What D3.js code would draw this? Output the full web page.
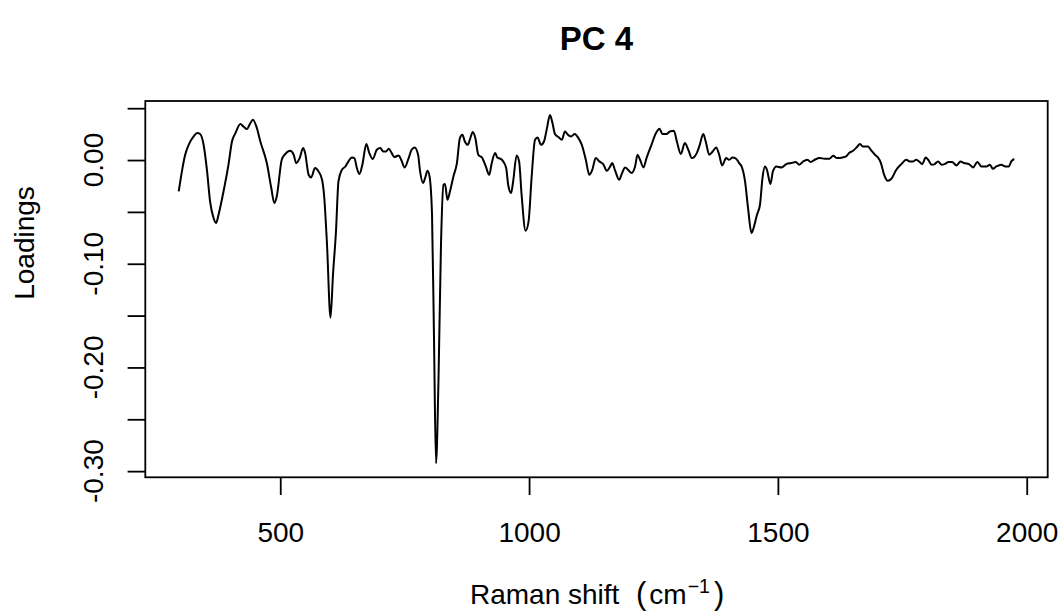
<!DOCTYPE html>
<html>
<head>
<meta charset="utf-8">
<script src="https://cdn.jsdelivr.net/npm/d3@7"></script>
<style>
  body { margin: 0; background: #fff; }
  svg { display: block; }
  text { font-family: "Liberation Sans", Arial, sans-serif; fill: #000; }
</style>
</head>
<body>
<div id="chart"></div>
<script>
// Raman shift (cm^-1) and PC4 loadings
const shift = [
  296, 309, 316, 326, 333, 339, 346, 353, 359, 366, 371, 376, 386, 396, 403, 410,
  420, 426, 433, 440, 445, 452, 460, 473, 482, 488, 493, 503, 510, 520, 527, 532,
  539, 546, 550, 557, 562, 570, 577, 584, 588, 594, 601, 606, 612, 617, 624, 631,
  637, 644, 649, 654, 659, 665, 673, 679, 686, 694, 701, 707, 713, 718, 724, 729,
  738, 743, 750, 758, 764, 770, 777, 781, 787, 791, 796, 800, 805, 809, 813, 818,
  823, 828, 831, 836, 841, 848, 855, 861, 866, 871, 877, 881, 887, 892, 898, 906,
  913, 920, 925, 932, 936, 942, 948, 954, 958, 964, 968, 975, 980, 985, 993, 999,
  1005, 1012, 1017, 1024, 1030, 1036, 1042, 1047, 1052, 1059, 1066, 1072, 1078, 1084, 1092, 1099,
  1106, 1114, 1121, 1127, 1134, 1141, 1149, 1156, 1163, 1167, 1173, 1181, 1187, 1193, 1206, 1213,
  1218, 1223, 1230, 1236, 1246, 1255, 1262, 1268, 1276, 1283, 1291, 1297, 1305, 1313, 1320, 1327,
  1337, 1343, 1350, 1355, 1362, 1369, 1376, 1382, 1388, 1396, 1402, 1409, 1416, 1422, 1427, 1434,
  1440, 1447, 1450, 1458, 1464, 1469, 1474, 1478, 1485, 1490, 1497, 1507, 1517, 1527, 1536, 1543,
  1551, 1559, 1566, 1574, 1584, 1594, 1604, 1611, 1619, 1630, 1637, 1643, 1651, 1658, 1665, 1671,
  1681, 1688, 1695, 1701, 1707, 1713, 1721, 1728, 1738, 1748, 1758, 1765, 1772, 1778, 1785, 1790,
  1797, 1802, 1809, 1815, 1822, 1829, 1835, 1843, 1850, 1859, 1867, 1874, 1884, 1892, 1901, 1909,
  1919, 1926, 1932, 1939, 1949, 1957, 1964, 1969, 1975
]

const loading = [
  -0.0303, 0.0051, 0.0147, 0.0228, 0.0260, 0.0251, 0.0147, -0.0110, -0.0399, -0.0559, -0.0607, -0.0527, -0.0303, -0.0045, 0.0179, 0.0260,
  0.0347, 0.0324, 0.0299, 0.0357, 0.0388, 0.0324, 0.0179, -0.0029, -0.0270, -0.0415, -0.0351, 0.0003, 0.0058, 0.0090, 0.0051, -0.0029,
  0.0019, 0.0116, 0.0067, -0.0142, -0.0168, -0.0077, -0.0110, -0.0190, -0.0335, -0.0817, -0.1520, -0.1106, -0.0688, -0.0206, -0.0094, -0.0062,
  -0.0013, 0.0025, 0.0019, -0.0077, -0.0135, -0.0045, 0.0154, 0.0067, 0.0010, 0.0099, 0.0116, 0.0083, 0.0083, 0.0109, 0.0067, 0.0029,
  0.0044, 0.0003, -0.0071, 0.0019, 0.0099, 0.0121, 0.0051, -0.0110, -0.0222, -0.0174, -0.0103, -0.0158, -0.0527, -0.1732, -0.2925, -0.2118,
  -0.0817, -0.0238, -0.0231, -0.0383, -0.0303, -0.0158, -0.0029, 0.0212, 0.0244, 0.0179, 0.0147, 0.0196, 0.0270, 0.0212, 0.0051, 0.0019,
  -0.0062, -0.0142, -0.0029, 0.0067, 0.0025, 0.0013, -0.0013, -0.0077, -0.0238, -0.0318, -0.0206, 0.0044, -0.0013, -0.0335, -0.0682, -0.0592,
  -0.0174, 0.0196, 0.0218, 0.0147, 0.0179, 0.0308, 0.0435, 0.0357, 0.0251, 0.0222, 0.0196, 0.0276, 0.0244, 0.0228, 0.0251, 0.0212,
  0.0147, 0.0003, -0.0142, -0.0094, 0.0019, -0.0013, -0.0039, -0.0103, -0.0062, -0.0029, -0.0103, -0.0190, -0.0125, -0.0071, -0.0125, -0.0062,
  0.0051, 0.0003, -0.0071, 0.0019, 0.0147, 0.0260, 0.0302, 0.0251, 0.0251, 0.0276, 0.0282, 0.0179, 0.0058, 0.0164, 0.0099, 0.0019,
  0.0067, 0.0147, 0.0251, 0.0179, 0.0051, 0.0083, 0.0121, 0.0051, -0.0052, 0.0019, 0.0003, 0.0025, 0.0013, -0.0029, -0.0062, -0.0206,
  -0.0463, -0.0704, -0.0672, -0.0527, -0.0431, -0.0174, -0.0062, -0.0094, -0.0231, -0.0110, -0.0062, -0.0071, -0.0039, -0.0029, -0.0019, -0.0045,
  -0.0013, 0.0003, -0.0019, 0.0003, 0.0019, 0.0013, 0.0013, 0.0041, 0.0019, 0.0025, 0.0035, 0.0067, 0.0090, 0.0121, 0.0154, 0.0131,
  0.0131, 0.0090, 0.0051, 0.0025, -0.0029, -0.0135, -0.0200, -0.0180, -0.0094, -0.0039, 0.0003, -0.0013, -0.0013, 0.0003, -0.0019, -0.0039,
  0.0025, 0.0003, -0.0045, -0.0039, -0.0013, -0.0045, -0.0039, -0.0019, -0.0019, -0.0052, -0.0013, -0.0029, -0.0039, -0.0071, -0.0019, -0.0062,
  -0.0062, -0.0045, -0.0084, -0.0062, -0.0045, -0.0062, -0.0062, -0.0013, 0.0010
]

const xTicks = [500, 1000, 1500, 2000]
const yTicks = [0.05, 0, -0.05, -0.1, -0.15, -0.2, -0.25, -0.3]
const yLabelled = [0, -0.1, -0.2, -0.3]

const chartTitle = 'PC 4'
const yTitle = 'Loadings'

const width = 1063
const height = 612
const box = { left: 145.3, right: 1047.7, top: 101, bottom: 477.3 }
const tickLen = 17.7
const fontSize = 28

// R-style 4% padding around the data range
function padded(ext) {
  const p = (ext[1] - ext[0]) * 0.04
  return [ext[0] - p, ext[1] + p]
}

const x = d3.scaleLinear().domain(padded(d3.extent(shift))).range([box.left, box.right])
const y = d3.scaleLinear().domain(padded(d3.extent(loading))).range([box.bottom, box.top])

const svg = d3
  .select('#chart')
  .append('svg')
  .attr('width', width)
  .attr('height', height)

svg.append('rect').attr('width', width).attr('height', height).attr('fill', '#fff')

const points = shift.map((s, i) => [s, loading[i]])

svg
  .append('path')
  .datum(points)
  .attr('fill', 'none')
  .attr('stroke', '#000')
  .attr('stroke-width', 2)
  .attr('stroke-linejoin', 'round')
  .attr(
    'd',
    d3
      .line()
      .x((d) => x(d[0]))
      .y((d) => y(d[1]))
      .curve(d3.curveMonotoneX)
  )

// plot frame
svg
  .append('rect')
  .attr('x', box.left)
  .attr('y', box.top)
  .attr('width', box.right - box.left)
  .attr('height', box.bottom - box.top)
  .attr('fill', 'none')
  .attr('stroke', '#000')
  .attr('stroke-width', 1.8)

// x axis
const xAxis = svg
  .append('g')
  .attr('transform', `translate(0,${box.bottom})`)
  .call(d3.axisBottom(x).tickValues(xTicks).tickSize(tickLen).tickSizeOuter(0).tickFormat(d3.format('d')))
xAxis.select('.domain').remove()
xAxis.selectAll('line').attr('stroke', '#000').attr('stroke-width', 1.8)
xAxis.selectAll('text').attr('font-size', fontSize).attr('dy', null).attr('y', 64.4).attr('fill', '#000')

// y axis, labels rotated like R's default las = 0
const yAxis = svg
  .append('g')
  .attr('transform', `translate(${box.left},0)`)
  .call(d3.axisLeft(y).tickValues(yTicks).tickSize(tickLen).tickSizeOuter(0).tickFormat(() => ''))
yAxis.select('.domain').remove()
yAxis.selectAll('line').attr('stroke', '#000').attr('stroke-width', 1.8)

svg
  .append('g')
  .selectAll('text')
  .data(yLabelled)
  .join('text')
  .attr('transform', (d) => `translate(103.3,${y(d)}) rotate(-90)`)
  .attr('text-anchor', 'middle')
  .attr('font-size', fontSize)
  .text((d) => d3.format('.2f')(d).replace('−', '-'))

// titles
svg
  .append('text')
  .attr('x', (box.left + box.right) / 2)
  .attr('y', 50)
  .attr('text-anchor', 'middle')
  .attr('font-size', 33)
  .attr('font-weight', 'bold')
  .text(chartTitle)

const xTitle = svg
  .append('text')
  .attr('x', 470)
  .attr('y', 604)
  .attr('font-size', fontSize)
xTitle.append('tspan').text('Raman shift')
xTitle.append('tspan').attr('x', 636).attr('font-size', 31).text('(')
xTitle.append('tspan').attr('font-size', fontSize).attr('dx', 3).text('cm')
xTitle.append('tspan').attr('font-size', 19.6).attr('dy', -11).attr('dx', 1).text('\u22121')
xTitle.append('tspan').attr('font-size', 31).attr('dy', 11).attr('dx', 4).text(')')

svg
  .append('text')
  .attr('transform', `translate(34,243) rotate(-90)`)
  .attr('text-anchor', 'middle')
  .attr('font-size', fontSize)
  .text(yTitle)
</script>
</body>
</html>
